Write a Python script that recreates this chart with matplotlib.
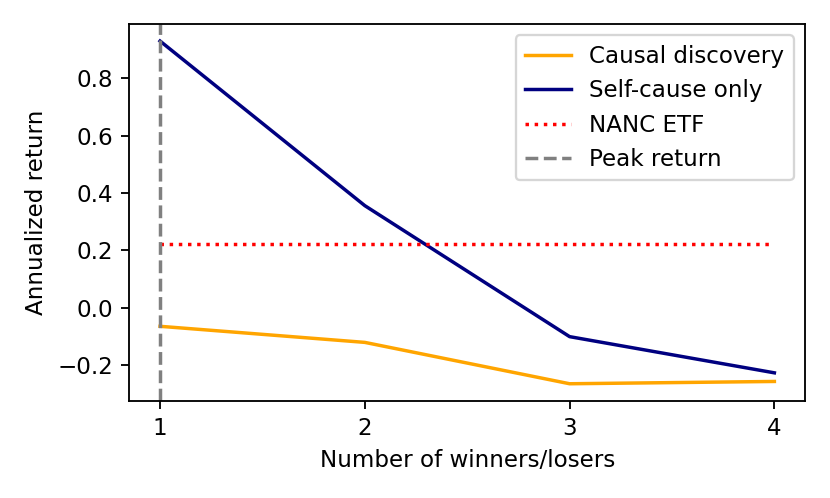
import matplotlib
matplotlib.use("Agg")
import matplotlib.pyplot as plt
from matplotlib.ticker import MultipleLocator

# number of winners/losers held
n_stocks = [1, 2, 3, 4]
causal_discovery = [-0.064, -0.12, -0.264, -0.256]
self_cause_only = [0.929, 0.356, -0.100, -0.226]
nanc_etf = 0.224
peak_x = 1

fig, ax = plt.subplots(figsize=(5, 3), dpi=166)
ax.plot(n_stocks, causal_discovery, color="orange", label="Causal discovery")
ax.plot(n_stocks, self_cause_only, color="navy", label="Self-cause only")
ax.plot(n_stocks, [nanc_etf] * len(n_stocks), color="red", linestyle=":", label="NANC ETF")
ax.axvline(peak_x, color="gray", linestyle="--", label="Peak return")

ax.set_xticks(n_stocks)
ax.yaxis.set_major_locator(MultipleLocator(0.2))
ax.set_xlabel("Number of winners/losers")
ax.set_ylabel("Annualized return")
ax.legend(loc="upper right")

fig.subplots_adjust(left=0.1558, right=0.970, top=0.952, bottom=0.195)
fig.savefig("out.png", dpi=166)
